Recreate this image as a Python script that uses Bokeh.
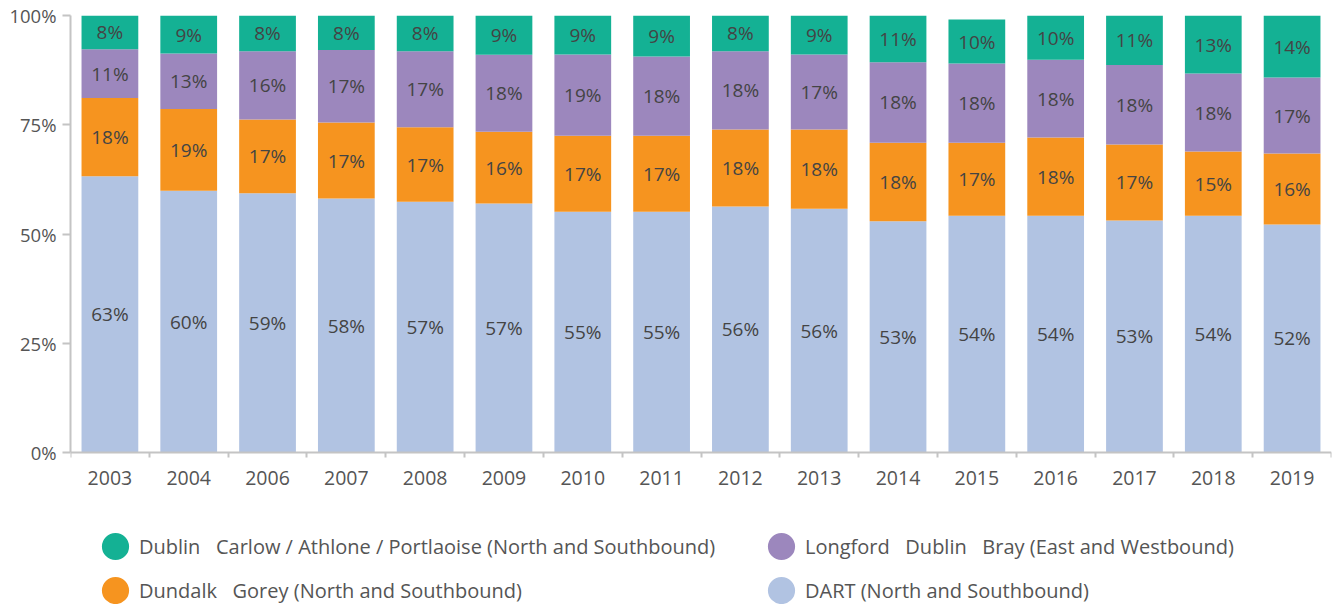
from bokeh.plotting import figure
from bokeh.models import ColumnDataSource, FixedTicker, Legend, LegendItem, Range1d
from bokeh.core.properties import value
from bokeh.embed import file_html
from bokeh.resources import INLINE

# ---- data -------------------------------------------------------------
years = ["2003", "2004", "2006", "2007", "2008", "2009", "2010", "2011",
         "2012", "2013", "2014", "2015", "2016", "2017", "2018", "2019"]
dart     = [63.2, 59.9, 59.3, 58.1, 57.4, 57.0, 55.1, 55.1, 56.3, 55.8, 52.9, 54.2, 54.2, 53.1, 54.2, 52.2]
dundalk  = [17.9, 18.7, 16.9, 17.4, 17.0, 16.4, 17.4, 17.4, 17.6, 18.1, 18.0, 16.7, 17.9, 17.4, 14.7, 16.2]
longford = [11.2, 12.7, 15.6, 16.6, 17.4, 17.6, 18.6, 18.1, 17.9, 17.2, 18.4, 18.1, 17.8, 18.2, 17.8, 17.4]
dublin   = [7.7, 8.7, 8.2, 7.9, 8.2, 9.0, 8.9, 9.4, 8.2, 8.9, 10.7, 10.1, 10.1, 11.3, 13.3, 14.2]

series_keys = ["dart", "dundalk", "longford", "dublin"]
series_names = [
    "DART (North and Southbound)",
    "Dundalk \u00a0 Gorey (North and Southbound)",
    "Longford \u00a0 Dublin \u00a0 Bray (East and Westbound)",
    "Dublin \u00a0 Carlow / Athlone / Portlaoise (North and Southbound)",
]
colors = ["#b1c3e2", "#f6941f", "#9c87bd", "#14b194"]
y_ticks = [0, 25, 50, 75, 100]

# ---- build source -----------------------------------------------------
xs = list(range(len(years)))
data = {"x": xs, "dart": dart, "dundalk": dundalk, "longford": longford, "dublin": dublin}
base = [0.0] * len(years)
for key in series_keys:
    vals = data[key]
    data["mid_" + key] = [b + v / 2 for b, v in zip(base, vals)]
    data["lab_" + key] = [f"{round(v)}%" for v in vals]
    base = [b + v for b, v in zip(base, vals)]
source = ColumnDataSource(data)

FONT = "Open Sans"

# layout (page pixels)
W, H = 1338, 604
TOP, ZERO, LEFT, RIGHT = 15, 452, 70, 1331
# the frame runs down to the page bottom so the legend can sit inside it;
# the value axis still spans 0..100 between TOP and ZERO
y_start = -100.0 * (H - ZERO) / (ZERO - TOP)

p = figure(width=W, height=H,
           x_range=Range1d(-0.5, len(years) - 0.5), y_range=Range1d(y_start, 100),
           output_backend="svg", toolbar_location=None,
           min_border_left=LEFT, min_border_right=W - RIGHT, min_border_top=TOP,
           min_border_bottom=0)
p.outline_line_color = None
p.xgrid.visible = False
p.ygrid.visible = False
p.background_fill_color = "white"
p.border_fill_color = "white"

p.vbar_stack(series_keys, x="x", width=0.72, fill_color=colors,
             line_color=None, source=source)

for key in series_keys:
    p.text(x="x", y="mid_" + key, text="lab_" + key, source=source,
           text_align="center", text_baseline="middle",
           text_font=value(FONT), text_font_size="19px", text_color="#444444")

# ---- axes -------------------------------------------------------------
axis_col = "#c4c4c4"
yax = p.yaxis[0]
yax.ticker = FixedTicker(ticks=y_ticks)
yax.bounds = (0, 100)
yax.major_label_overrides = {t: f"{t}%" for t in y_ticks}
yax.axis_line_color = axis_col
yax.axis_line_width = 2
yax.major_tick_line_color = axis_col
yax.major_tick_line_width = 2
yax.major_tick_out = 8
yax.major_tick_in = 0
yax.minor_tick_line_color = None
yax.major_label_standoff = 6
yax.major_label_text_font = FONT
yax.major_label_text_font_size = "18.5px"
yax.major_label_text_color = "#555555"

xax = p.xaxis[0]
xax.fixed_location = 0
xax.ticker = FixedTicker(ticks=xs, minor_ticks=[i - 0.5 for i in range(len(years) + 1)])
xax.major_label_overrides = {i: y for i, y in enumerate(years)}
xax.axis_line_color = axis_col
xax.axis_line_width = 2
xax.major_tick_line_color = None
xax.major_tick_out = 5
xax.major_tick_in = 0
xax.minor_tick_line_color = axis_col
xax.minor_tick_line_width = 2
xax.minor_tick_out = 5
xax.minor_tick_in = 0
xax.major_label_standoff = 13
xax.major_label_text_font = FONT
xax.major_label_text_font_size = "19.5px"
xax.major_label_text_color = "#555555"

# ---- legend -----------------------------------------------------------
# circle swatches: ellipse renderers on the real data, muted to be invisible
# in the plot (legend draws the normal glyph)
rend = {}
for key, col in zip(series_keys, colors):
    r = p.ellipse(x="x", y="mid_" + key, width=24, height=24,
                  width_units="screen", height_units="screen", source=source,
                  fill_color=col, line_color=None, muted_alpha=0)
    r.muted = True
    rend[key] = r

def make_legend(keys, loc):
    items = [LegendItem(label=series_names[series_keys.index(k)], renderers=[rend[k]])
             for k in keys]
    return Legend(items=items, location=loc, orientation="vertical",
                  glyph_width=34, glyph_height=34, spacing=10, label_standoff=7,
                  padding=0, margin=0, border_line_color=None,
                  background_fill_alpha=0, click_policy="none",
                  label_text_font=FONT, label_text_font_size="20px",
                  label_text_color="#555555")

p.add_layout(make_legend(["dublin", "dundalk"], (28, -3)))
p.add_layout(make_legend(["longford", "dart"], (694, -3)))

open("out.html", "w").write(file_html(p, INLINE))
